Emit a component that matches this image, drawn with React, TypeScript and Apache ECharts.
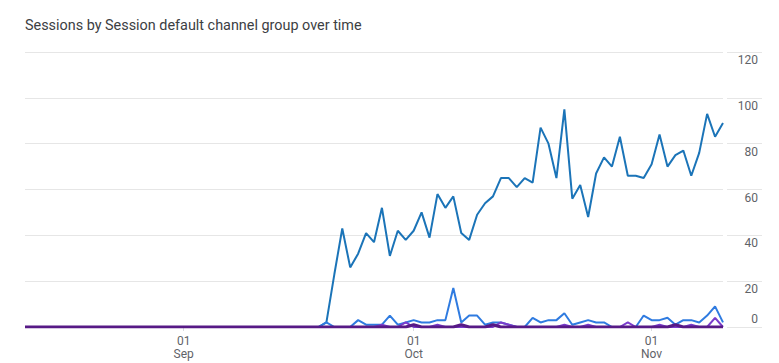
import React, { useEffect, useRef } from "react";
import * as echarts from "echarts";

const title = "Sessions by Session default channel group over time";

// one category per day shown on the chart
const dayCount = 89;
const days: string[] = Array.from({ length: dayCount }, (_, i) => String(i));
const tickIndex = [20, 49, 79];
const tickLabels = ["01\nSep", "01\nOct", "01\nNov"];

const yTicks = [0, 20, 40, 60, 80, 100, 120];

const zeros38 = new Array(38).fill(0);

const mainValues = [
  ...zeros38,
  2, 23, 43, 26, 32, 41, 37, 52, 31, 42,
  38, 42, 50, 39, 58, 52, 57, 41, 38, 49,
  54, 57, 65, 65, 61, 65, 63, 87, 80, 65,
  95, 56, 62, 48, 67, 74, 70, 83, 66, 66,
  65, 71, 84, 70, 75, 77, 66, 76, 93, 83,
  89,
];

const blueValues = [
  ...zeros38,
  2, 0, 0, 0, 3, 1, 1, 1, 5, 1,
  2, 3, 2, 2, 3, 3, 17, 2, 5, 5,
  1, 2, 2, 1, 0, 0, 4, 2, 3, 3,
  6, 1, 2, 3, 2, 2, 0, 0, 0, 0,
  5, 3, 3, 4, 1, 3, 3, 2, 5, 9,
  2,
];

const purpleValues = [
  ...zeros38,
  0, 0, 0, 0, 0, 0, 0, 1, 0, 0,
  2, 0, 0, 0, 1, 0, 0, 0, 0, 0,
  0, 0, 2, 1, 0, 0, 0, 0, 0, 0,
  1, 0, 0, 1, 0, 0, 0, 0, 2, 0,
  0, 0, 1, 0, 0, 0, 1, 0, 0, 4,
  0,
];

const darkValues = [
  ...zeros38,
  0, 0, 0, 0, 0, 0, 0, 0, 0, 0,
  0, 1, 0, 0, 0, 0, 0, 1, 0, 0,
  0, 1, 0, 0, 0, 0, 0, 0, 0, 0,
  0, 0, 0, 0, 0, 0, 0, 0, 0, 0,
  0, 0, 0, 0, 1, 0, 0, 0, 0, 0,
  0,
];

const seriesDefs = [
  { name: "Direct", data: mainValues, color: "#1b74b8", width: 2 },
  { name: "Organic Search", data: blueValues, color: "#2f7be0", width: 2 },
  { name: "Referral", data: purpleValues, color: "#7a3ccc", width: 2 },
  { name: "Unassigned", data: darkValues, color: "#571a86", width: 3 },
];

const FONT = "Roboto, 'Noto Sans', sans-serif";

export default function App() {
  const ref = useRef<HTMLDivElement>(null);

  useEffect(() => {
    if (!ref.current) return;
    const chart = echarts.init(ref.current, undefined, { renderer: "svg" });
    const yMin = yTicks[0];
    const yMax = yTicks[yTicks.length - 1];
    const yInterval = yTicks[1] - yTicks[0];
    chart.setOption({
      animation: false,
      backgroundColor: "#ffffff",
      title: {
        text: title,
        left: 20,
        top: 13,
        textStyle: {
          fontFamily: FONT,
          fontSize: 14.4,
          fontWeight: "normal",
          color: "#3c4043",
        },
      },
      grid: [
        { left: 25, right: 56, top: 52, bottom: 36 },
        { left: 727, right: 17, top: 52, bottom: 36 },
      ],
      xAxis: [
        {
          type: "category",
          gridIndex: 0,
          data: days,
          boundaryGap: false,
          axisLine: { show: false },
          axisTick: {
            show: true,
            length: 4,
            interval: (i: number) => tickIndex.includes(i),
            lineStyle: { color: "#dadce0" },
          },
          axisLabel: {
            interval: (i: number) => tickIndex.includes(i),
            formatter: (_v: string, i: number) => {
              const k = tickIndex.indexOf(i);
              return k >= 0 ? tickLabels[k] : "";
            },
            fontFamily: FONT,
            fontSize: 12,
            lineHeight: 13,
            color: "#5f6368",
            margin: 7,
          },
          splitLine: { show: false },
        },
        {
          type: "value",
          gridIndex: 1,
          show: false,
          min: 0,
          max: 1,
        },
      ],
      yAxis: [
        {
          type: "value",
          gridIndex: 0,
          min: yMin,
          max: yMax,
          interval: yInterval,
          axisLine: { show: false },
          axisTick: { show: false },
          axisLabel: { show: false },
          splitLine: { show: true, lineStyle: { color: "#e6e6e6", width: 1 } },
        },
        {
          type: "value",
          gridIndex: 1,
          position: "right",
          min: yMin,
          max: yMax,
          interval: yInterval,
          axisLine: { show: false },
          axisTick: { show: false },
          splitLine: { show: true, lineStyle: { color: "#e6e6e6", width: 1 } },
          axisLabel: {
            inside: true,
            margin: 4,
            formatter: (v: number) => (v === 0 ? `{b|${v}}` : `{a|${v}}`),
            rich: {
              a: {
                fontFamily: FONT,
                fontSize: 12,
                color: "#5f6368",
                padding: [16, 0, 0, 0],
              },
              b: {
                fontFamily: FONT,
                fontSize: 12,
                color: "#5f6368",
                padding: [0, 0, 17, 0],
              },
            },
          },
        },
      ],
      series: seriesDefs.map((s) => ({
        name: s.name,
        type: "line",
        xAxisIndex: 0,
        yAxisIndex: 0,
        data: s.data,
        showSymbol: false,
        symbol: "none",
        lineStyle: { color: s.color, width: s.width },
        itemStyle: { color: s.color },
      })),
    });
    return () => chart.dispose();
  }, []);

  return (
    <div
      ref={ref}
      style={{ position: "fixed", left: 0, top: 0, width: 779, height: 363, background: "#fff" }}
    />
  );
}
